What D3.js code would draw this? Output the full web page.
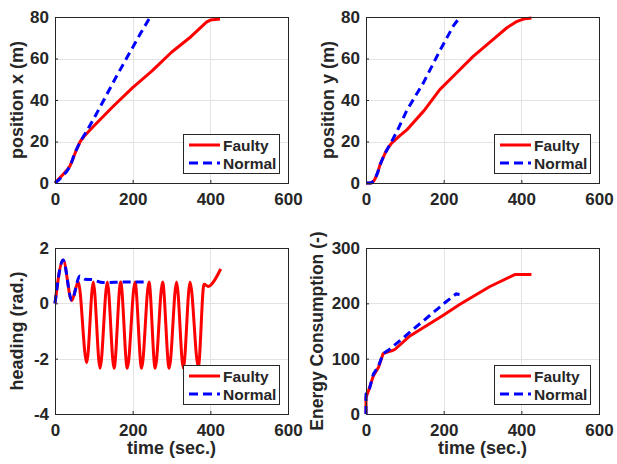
<!DOCTYPE html>
<html>
<head>
<meta charset="utf-8">
<script src="https://cdn.jsdelivr.net/npm/d3@7"></script>
<style>
  body { margin: 0; background: #fff; }
  text { font-family: "Liberation Sans", Arial, Helvetica, sans-serif; font-weight: bold; fill: #262626; }
</style>
</head>
<body>
<div id="chart"></div>
<script>
// time ticks shared by all four panels
var timeTicks = [0, 200, 400, 600];
var posTicks = [0, 20, 40, 60, 80];
var headTicks = [-4, -2, 0, 2];
var energyTicks = [0, 100, 200, 300];
var seriesNames = ["Faulty", "Normal"];

// [time, value]
var posXFaulty = [[0,0],[10,2],[20,4],[30,6],[38,8],[45,11],[55,16],[65,20],[75,22.5],[100,27.5],[150,37],[200,46],[250,54],[300,63],[350,70.5],[390,77.5],[400,78.5],[425,79]];
var posXNormal = [[0,0],[10,1.5],[20,3.5],[30,5.5],[40,8.5],[50,14],[60,18],[70,21.5],[80,24.5],[100,31],[130,41.5],[160,52],[190,62],[220,72],[245,80]];

var posYFaulty = [[0,0],[14,0],[20,1],[24,2.3],[30,5],[36,8.7],[43,11.8],[49,14.3],[57,17],[66,19.2],[85,22.5],[105,25.6],[150,35],[190,45],[233,53],[276,61],[320,68],[362,74.7],[385,77.5],[396,78.4],[410,79.2],[426,79.5]];
var posYNormal = [[0,0],[12,0],[20,1],[24,2.3],[30,5],[36,8.7],[43,11.8],[49,14.3],[57,17],[66,20],[80,25],[105,35],[147,48],[190,63.7],[225,75.7],[242,80]];

var headFaulty = [[0,0],[21,1.57],[43,0.1],[60,0.77],[81.6,-2.15],[98.6,0.77],[116,-2.35],[134.8,0.77],[152,-2.35],[169.1,0.77],[186.2,-2.35],[206,0.77],[223,-2.35],[242,0.77],[258,-2.35],[277,0.77],[294,-2.35],[313,0.77],[330.5,-2.35],[347.7,0.77],[369,-2.3],[383.7,0.69],[394.9,0.61],[401,0.66],[426.7,1.24]];
var headNormal = [[0,0],[21,1.57],[43,0.12],[64,0.99],[77,0.87],[94,0.86],[124,0.75],[184,0.77],[235,0.77]];

var energyFaulty = [[0,0],[0,30],[6,41],[19,69],[32,84],[44,109],[55,112],[66,114],[75,117],[113,141],[198,178],[241,198],[318,230],[383,252],[426,252]];
var energyNormal = [[0,0],[0,36],[9,46],[19,72],[32,86],[44,109],[61,117],[113,148],[164,178],[203,201],[232,217],[241,216]];

var width = 617, height = 464;

var svg = d3.select("#chart").append("svg")
  .attr("width", width)
  .attr("height", height);

var panels = [
  { left: 55, top: 17, yTicks: posTicks, yLabel: "position x (m)", labelOff: 38, xLabel: false,
    faulty: posXFaulty, normal: posXNormal, curve: d3.curveLinear },
  { left: 366, top: 17, yTicks: posTicks, yLabel: "position y (m)", labelOff: 38, xLabel: false,
    faulty: posYFaulty, normal: posYNormal, curve: d3.curveLinear },
  { left: 55, top: 248, yTicks: headTicks, yLabel: "heading (rad.)", labelOff: 38, xLabel: true,
    faulty: headFaulty, normal: headNormal, curve: d3.curveMonotoneX },
  { left: 366, top: 248, yTicks: energyTicks, yLabel: "Energy Consumption (-)", labelOff: 49, xLabel: true,
    faulty: energyFaulty, normal: energyNormal, curve: d3.curveLinear }
];

var pw = 233, ph = 166;

panels.forEach((p, i) => {
  var g = svg.append("g").attr("transform", "translate(" + p.left + "," + p.top + ")");

  var x = d3.scaleLinear().domain([0, 600]).range([0, pw]);
  var yExt = d3.extent(p.yTicks);
  var y = d3.scaleLinear().domain(yExt).range([ph, 0]);

  // grid
  g.selectAll(".gx").data(timeTicks.slice(1, -1)).enter().append("line")
    .attr("x1", d => Math.round(x(d)) + 0.5).attr("x2", d => Math.round(x(d)) + 0.5)
    .attr("y1", 0).attr("y2", ph)
    .attr("stroke", "#e3e3e3").attr("stroke-width", 1);
  g.selectAll(".gy").data(p.yTicks.slice(1, -1)).enter().append("line")
    .attr("y1", d => Math.round(y(d)) + 0.5).attr("y2", d => Math.round(y(d)) + 0.5)
    .attr("x1", 0).attr("x2", pw)
    .attr("stroke", "#e3e3e3").attr("stroke-width", 1);

  // data lines
  g.append("clipPath").attr("id", "clip" + i)
    .append("rect").attr("x", -2).attr("y", -2).attr("width", pw + 4).attr("height", ph + 4);

  var line = d3.line()
    .x(d => x(d[0]))
    .y(d => y(d[1]))
    .curve(p.curve);

  var lines = g.append("g").attr("clip-path", "url(#clip" + i + ")");
  lines.append("path").datum(p.faulty)
    .attr("d", line)
    .attr("fill", "none")
    .attr("stroke", "#ff0000")
    .attr("stroke-width", 3)
    .attr("stroke-linejoin", "round");
  lines.append("path").datum(p.normal)
    .attr("d", line)
    .attr("fill", "none")
    .attr("stroke", "#0000ff")
    .attr("stroke-width", 3)
    .attr("stroke-dasharray", "8,5");

  // axes
  var xAxis = d3.axisBottom(x).tickValues(timeTicks).tickSize(-3).tickSizeOuter(0).tickPadding(10)
    .tickFormat(d => String(d));
  var yAxis = d3.axisLeft(y).tickValues(p.yTicks).tickSize(-3).tickSizeOuter(0).tickPadding(6)
    .tickFormat(d => String(d));

  var gx = g.append("g").attr("transform", "translate(0," + ph + ")").call(xAxis);
  var gy = g.append("g").call(yAxis);
  [gx, gy].forEach(a => {
    a.select(".domain").remove();
    a.selectAll("line").attr("stroke", "#262626");
    a.selectAll("text").style("font-size", "17px").attr("fill", "#262626");
  });

  // box
  g.append("rect")
    .attr("x", 0.5).attr("y", 0.5)
    .attr("width", pw).attr("height", ph)
    .attr("fill", "none")
    .attr("stroke", "#262626")
    .attr("stroke-width", 1);

  // labels
  g.append("text")
    .attr("transform", "translate(" + (-p.labelOff) + "," + (ph / 2) + ") rotate(-90)")
    .attr("text-anchor", "middle")
    .attr("dy", "0.35em")
    .style("font-size", p.yLabel.length > 16 ? "17.5px" : "18px")
    .text(p.yLabel);

  if (p.xLabel) {
    g.append("text")
      .attr("x", pw / 2)
      .attr("y", ph + 40)
      .attr("text-anchor", "middle")
      .style("font-size", "18px")
      .text("time (sec.)");
  }

  // legend
  var lg = g.append("g").attr("transform", "translate(" + (pw - 105) + "," + (ph - 49) + ")");
  lg.append("rect")
    .attr("x", 0.5).attr("y", 0.5)
    .attr("width", 96).attr("height", 39)
    .attr("fill", "#fff")
    .attr("stroke", "#262626")
    .attr("stroke-width", 1);
  seriesNames.forEach((name, k) => {
    var yy = 11 + k * 18;
    lg.append("line")
      .attr("x1", 6).attr("x2", 37)
      .attr("y1", yy).attr("y2", yy)
      .attr("stroke", k === 0 ? "#ff0000" : "#0000ff")
      .attr("stroke-width", 3)
      .attr("stroke-dasharray", k === 0 ? null : "9,5");
    lg.append("text")
      .attr("x", 40)
      .attr("y", yy + 5.5)
      .style("font-size", "15.5px")
      .text(name);
  });
});
</script>
</body>
</html>
